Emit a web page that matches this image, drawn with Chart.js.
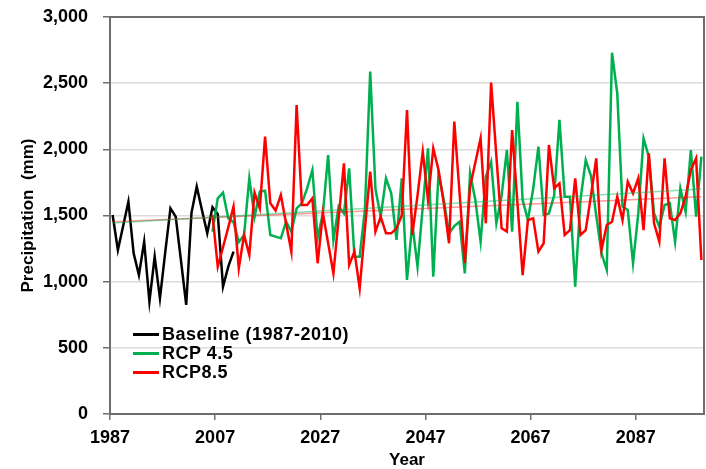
<!DOCTYPE html>
<html>
<head>
<meta charset="utf-8">
<script src="https://cdn.jsdelivr.net/npm/chart.js@4.4.1/dist/chart.umd.min.js"></script>
<style>
    html, body { margin: 0; padding: 0; background: #fff; }
    #wrap { position: relative; width: 706px; height: 469px; }
    #legend {
        position: absolute; left: 133px; top: 325px;
        font: bold 18px "Liberation Sans", Arial, sans-serif; letter-spacing: 0.5px; color: #000;
    }
    .legend-row { display: flex; align-items: center; height: 19px; }
    .legend-line { width: 26px; height: 3px; margin-right: 3px; }
</style>
</head>
<body>
<div id="wrap">
    <canvas id="chart" width="706" height="469"></canvas>
    <div id="legend"></div>
</div>
<script>
// values (mm per year)
const baselineYears = [1987, 1988, 1989, 1990, 1991, 1992, 1993, 1994, 1995, 1996, 1997, 1998,
    1999, 2000, 2001, 2002, 2003, 2004, 2005, 2006, 2007, 2008, 2009, 2010];
const baselineValues = [1504, 1239, 1420, 1604, 1214, 1050, 1302, 849, 1189, 874, 1220, 1554,
    1491, 1160, 824, 1520, 1718, 1540, 1365, 1562, 1510, 962, 1113, 1227];

const rcpStartYear = 2006;
const rcp45Values = [
    1378, 1630, 1673, 1479, 1450, 1300, 1350, 1781, 1491, 1680,   // 2006-2015
    1688, 1353, 1340, 1328, 1453, 1378, 1554, 1592, 1705, 1844,   // 2016-2025
    1328, 1516, 1957, 1315, 1567, 1516, 1856, 1189, 1189, 1550,   // 2026-2035
    2587, 1700, 1491, 1781, 1668, 1315, 1781, 1013, 1441, 1113,   // 2036-2045
    1567, 2008, 1038, 1819, 1617, 1365, 1420, 1453, 1063, 1819,   // 2046-2055
    1617, 1302, 1793, 1907, 1441, 1650, 1995, 1378, 2360, 1617,   // 2056-2065
    1466, 1700, 2020, 1504, 1516, 1652, 2222, 1642, 1642, 962,    // 2066-2075
    1617, 1919, 1800, 1500, 1214, 1088, 2730, 2423, 1567, 1541,   // 2076-2085
    1139, 1516, 2083, 1945, 1516, 1416, 1579, 1592, 1302, 1705,   // 2086-2095
    1528, 1995, 1491, 1945                                        // 2096-2099
];
const rcp85Values = [
    1504, 1113, 1260, 1410, 1567, 1101, 1353, 1202, 1673, 1554,   // 2006-2015
    2096, 1592, 1537, 1655, 1440, 1227, 2335, 1579, 1579, 1630,   // 2016-2025
    1139, 1516, 1290, 1063, 1480, 1894, 1126, 1227, 950, 1400,    // 2026-2035
    1831, 1378, 1491, 1365, 1365, 1403, 1500, 2297, 1353, 1650,   // 2036-2045
    1982, 1617, 2008, 1844, 1592, 1290, 2209, 1668, 1139, 1718,   // 2046-2055
    1900, 2083, 1441, 2504, 1950, 1403, 1378, 2146, 1600, 1050,   // 2056-2065
    1466, 1479, 1227, 1290, 2033, 1705, 1743, 1353, 1390, 1781,   // 2066-2075
    1353, 1390, 1650, 1932, 1239, 1428, 1453, 1642, 1466, 1756,   // 2076-2085
    1668, 1781, 1390, 1970, 1441, 1302, 1932, 1479, 1466, 1516,   // 2086-2095
    1642, 1844, 1932, 1164                                        // 2096-2099
];

// linear trend lines, end points
const trendYears = [1987, 2099];
const rcp45Trend = [1443, 1700];
const rcp85Trend = [1452, 1642];

const xTicks = [1987, 2007, 2027, 2047, 2067, 2087];
const yTicks = [0, 500, 1000, 1500, 2000, 2500, 3000];

const FONT = '"Liberation Sans", Arial, sans-serif';

const toPoints = (years, values) => values.map((v, i) => ({ x: years[i], y: v }));
const rcpYears = rcp45Values.map((v, i) => rcpStartYear + i);

const series = [
    { label: 'Baseline (1987-2010)', color: '#000000', data: toPoints(baselineYears, baselineValues), order: 3 },
    { label: 'RCP 4.5', color: '#00b050', data: toPoints(rcpYears, rcp45Values), order: 2 },
    { label: 'RCP8.5', color: '#ff0000', data: toPoints(rcpYears, rcp85Values), order: 1 }
];

const datasets = series.map(s => ({
    label: s.label,
    data: s.data,
    borderColor: s.color,
    borderWidth: 2.5,
    pointRadius: 0,
    tension: 0,
    order: s.order
}));
datasets.push({
    label: 'trend45', data: toPoints(trendYears, rcp45Trend),
    borderColor: 'rgba(0, 176, 80, 0.45)', borderWidth: 1.5, pointRadius: 0, order: 0
});
datasets.push({
    label: 'trend85', data: toPoints(trendYears, rcp85Trend),
    borderColor: 'rgba(255, 0, 0, 0.4)', borderWidth: 1.5, pointRadius: 0, order: 0
});

const frame = {
    id: 'frame',
    afterDraw(chart) {
        const { ctx, chartArea: a } = chart;
        ctx.save();
        ctx.strokeStyle = '#6e6e6e';
        ctx.lineWidth = 2;
        ctx.strokeRect(a.left, a.top, a.right - a.left, a.bottom - a.top);
        ctx.restore();
    }
};

// years sit in the middle of their category, ticks on the category edges
new Chart(document.getElementById('chart'), {
    type: 'line',
    data: { datasets },
    plugins: [frame],
    options: {
        responsive: false,
        animation: false,
        layout: { padding: { top: 17, right: 2, left: 0, bottom: 0 } },
        plugins: { legend: { display: false }, tooltip: { enabled: false } },
        scales: {
            x: {
                type: 'linear',
                min: 1986.5,
                max: 2099.5,
                afterFit: s => { s.height = 55; s.paddingLeft = 0; s.paddingRight = 0; },
                afterBuildTicks: s => { s.ticks = xTicks.map(v => ({ value: v - 0.5 })); },
                grid: { drawOnChartArea: false, tickColor: '#6e6e6e', tickLength: 6, lineWidth: 1.5 },
                border: { display: false },
                ticks: {
                    padding: 7, color: '#000', maxRotation: 0,
                    font: { family: FONT, size: 18, weight: 'bold' },
                    callback: v => String(v + 0.5)
                },
                title: {
                    display: true, text: 'Year', color: '#000',
                    font: { family: FONT, size: 17, weight: 'bold', lineHeight: 1 },
                    padding: 0
                }
            },
            y: {
                min: 0,
                max: 3000,
                afterFit: s => { s.width = 110; s.paddingTop = 0; s.paddingBottom = 0; },
                afterBuildTicks: s => { s.ticks = yTicks.map(v => ({ value: v })); },
                grid: { color: '#dcdcdc', lineWidth: 1.5, tickColor: '#6e6e6e', tickLength: 7 },
                border: { display: false },
                ticks: {
                    padding: 15, color: '#000',
                    font: { family: FONT, size: 18, weight: 'bold' },
                    callback: v => v.toLocaleString('en-US')
                },
                title: {
                    display: true, text: 'Precipitation  (mm)', color: '#000',
                    font: { family: FONT, size: 17, weight: 'bold' },
                    padding: { top: 18, bottom: 0 }
                }
            }
        }
    }
});

const legend = document.getElementById('legend');
series.forEach(s => {
    const row = document.createElement('div');
    row.className = 'legend-row';
    const line = document.createElement('span');
    line.className = 'legend-line';
    line.style.background = s.color;
    const text = document.createElement('span');
    text.textContent = s.label;
    row.appendChild(line);
    row.appendChild(text);
    legend.appendChild(row);
});
</script>
</body>
</html>
